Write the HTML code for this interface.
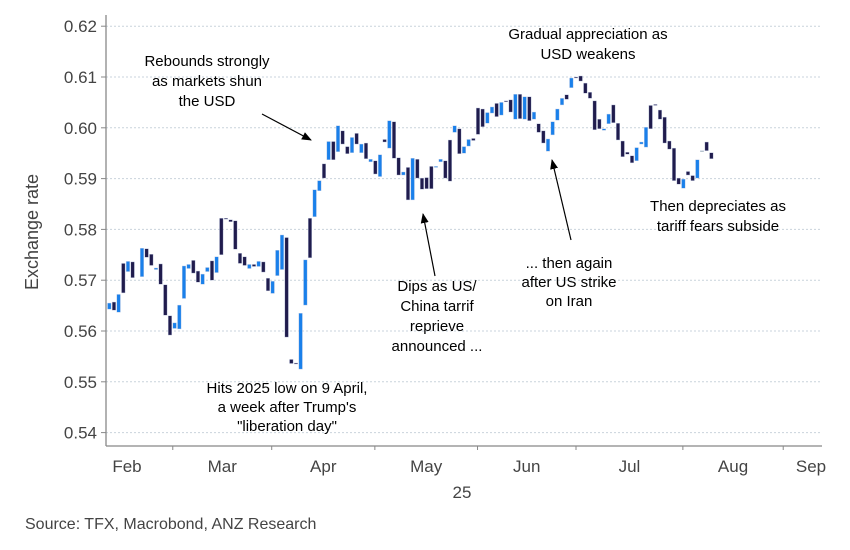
<!DOCTYPE html>
<html><head><meta charset="utf-8"><style>
body{margin:0;background:#fff;}
svg{display:block;font-family:"Liberation Sans",Arial,sans-serif;}
</style></head><body>
<svg id="chart" width="850" height="550" viewBox="0 0 850 550" xmlns="http://www.w3.org/2000/svg">
<defs><marker id="ah" markerWidth="10" markerHeight="8" refX="9" refY="4" orient="auto" markerUnits="userSpaceOnUse"><path d="M0,0 L10,4 L0,8 z" fill="#000"/></marker></defs>
<g id="grid"></g>
<g id="candles"></g>
<g id="axes"></g>
<text transform="translate(38,232) rotate(-90)" text-anchor="middle" font-size="18" fill="#444">Exchange rate</text>
<text x="462" y="498" text-anchor="middle" font-size="17" fill="#444">25</text>
<text x="25" y="529" font-size="16" fill="#444">Source: TFX, Macrobond, ANZ Research</text>
<g font-size="15" fill="#000" text-anchor="middle">
<text x="207" y="66"><tspan x="207">Rebounds strongly</tspan><tspan x="207" dy="20">as markets shun</tspan><tspan x="207" dy="20">the USD</tspan></text>
<text x="588" y="39"><tspan x="588">Gradual appreciation as</tspan><tspan x="588" dy="20">USD weakens</tspan></text>
<text x="718" y="211"><tspan x="718">Then depreciates as</tspan><tspan x="718" dy="20">tariff fears subside</tspan></text>
<text x="569" y="268"><tspan x="569">... then again</tspan><tspan x="569" dy="19">after US strike</tspan><tspan x="569" dy="19">on Iran</tspan></text>
<text x="437" y="291"><tspan x="437">Dips as US/</tspan><tspan x="437" dy="20">China tarrif</tspan><tspan x="437" dy="20">reprieve</tspan><tspan x="437" dy="20">announced ...</tspan></text>
<text x="287" y="393"><tspan x="287">Hits 2025 low on 9 April,</tspan><tspan x="287" dy="19">a week after Trump's</tspan><tspan x="287" dy="19">"liberation day"</tspan></text>
</g>
<g stroke="#000" stroke-width="1.2">
<line x1="262" y1="114" x2="311" y2="140" marker-end="url(#ah)"/>
<line x1="435" y1="276" x2="423" y2="214" marker-end="url(#ah)"/>
<line x1="571" y1="240" x2="552" y2="160" marker-end="url(#ah)"/>
</g>
</svg>
<script>
const opens=[.5643,.5657,.5637,.5733,.5717,.5736,null,.5707,.5762,.5751,.5721,.5732,.5691,.5630,.5605,.5604,.5664,.5723,.5739,.5718,.5692,.5717,.5738,.5715,.5822,.5822,.5819,.5817,.5753,.5746,.5723,.5731,.5727,.5736,.5704,.5674,.5709,.5721,.5784,.5544,.5537,.5525,.5651,.5822,.5825,.5876,.5929,.5937,.5973,.5953,.5994,.5963,.5951,.5989,.5951,.5970,.5933,.5935,.5904,.5977,.5960,.6012,.5941,.5907,.5922,.5858,.5938,.5901,.5902,.5924,.5922,.5933,.5935,.5976,.5991,.5998,.5950,.5964,.5979,.6039,.6037,.6009,.6029,.6048,.6025,.6053,.6055,.6017,.6066,.6017,.6061,.6017,.6008,.5994,.5954,.5986,.6015,.6045,.6065,.6079,.6100,.6102,.6088,.6070,.6053,.6017,.5995,.6008,.6045,.6009,.5974,.5952,.5945,.5935,.5968,.5962,.6044,.6046,.6035,.6021,.5974,.5960,.5901,.5881,.5914,.5906,.5901,.5955,.5972,.5951];
const closes=[.5655,.5641,.5672,.5675,.5737,.5705,null,.5763,.5745,.5729,.5724,.5692,.5631,.5592,.5616,.5651,.5728,.5731,.5714,.5696,.5712,.5725,.5700,.5746,.5750,.5820,.5815,.5761,.5733,.5729,.5731,.5727,.5737,.5716,.5679,.5698,.5759,.5789,.5588,.5536,.5535,.5635,.5740,.5744,.5878,.5896,.5901,.5973,.5937,.6004,.5968,.5949,.5981,.5968,.5968,.5939,.5938,.5909,.5947,.5972,.6014,.5940,.5907,.5913,.5858,.5940,.5901,.5879,.5880,.5880,.5924,.5938,.5901,.5895,.6004,.5949,.5963,.5977,.5975,.5987,.6002,.6030,.6041,.6022,.6050,.6052,.6031,.6066,.6018,.6061,.6014,.6031,.5991,.5970,.5978,.6012,.6037,.6058,.6056,.6098,.6098,.6092,.6068,.6058,.5996,.5998,.5998,.6027,.6010,.5976,.5943,.5948,.5931,.5961,.5972,.6001,.5998,.6044,.6017,.5970,.5958,.5896,.5889,.5899,.5907,.5896,.5937,.5955,.5955,.5939];
const yTicks=[0.54,0.55,0.56,0.57,0.58,0.59,0.60,0.61,0.62];
const yTickLabels=["0.54","0.55","0.56","0.57","0.58","0.59","0.60","0.61","0.62"];
const monthLabels=["Feb","Mar","Apr","May","Jun","Jul","Aug","Sep"];
const monthStarts=[-6.5,13.6,34.8,56.9,78.9,100.0,122.9,144.4,163];
const NS="http://www.w3.org/2000/svg";
const X0=106,X1=822,YB=446;
function xs(i){return 109.3+i*4.667;}
function ys(v){return 331-(v-0.56)*5080;}
function mk(tag,attrs,parent){const e=document.createElementNS(NS,tag);for(const k in attrs)e.setAttribute(k,attrs[k]);parent.appendChild(e);return e;}
const grid=document.getElementById('grid'),axes=document.getElementById('axes'),cg=document.getElementById('candles');
yTicks.forEach((t,k)=>{
  const y=ys(t);
  const l=mk('line',{x1:X0,x2:X1,y1:y,y2:y,stroke:'#c9d3dc','stroke-dasharray':'2,2','stroke-width':1},grid);
  
  
  mk('line',{x1:X0-5,x2:X0,y1:y,y2:y,stroke:'#888'},axes);
  const tx=mk('text',{x:97,y:y+6,'text-anchor':'end','font-size':17,fill:'#444'},axes);
  tx.textContent=yTickLabels[k];
  
  
});
mk('line',{x1:X0,x2:X0,y1:15,y2:YB,stroke:'#888','stroke-width':1.3},axes);
mk('line',{x1:X0,x2:X1,y1:YB,y2:YB,stroke:'#888','stroke-width':1.3},axes);
for(let k=1;k<monthStarts.length-1;k++){
  const x=xs(monthStarts[k]);
  mk('line',{x1:x,x2:x,y1:YB,y2:YB+4,stroke:'#888'},axes);
}
monthLabels.forEach((m,k)=>{
  let x=(xs(monthStarts[k])+xs(monthStarts[k+1]))/2;
  if(k===0)x=127; if(k===7)x=811;
  const t=mk('text',{x:x,y:472,'text-anchor':'middle','font-size':17,fill:'#444'},axes);
  t.textContent=m;
  
  
});
opens.forEach((o,i)=>{
  const c=closes[i]; if(o===null||c===null)return;
  const y1=ys(Math.max(o,c)),y2=ys(Math.min(o,c));
  const col=c>o?'#1a80ea':(c<o?'#201c4d':'#9aa');
  const r=mk('rect',{x:xs(i)-1.8,y:y1,width:3.6,height:Math.max(1,y2-y1),fill:col,stroke:'#c7d0e6','stroke-width':0.4},cg);
  
  
});
</script>
</body></html>
